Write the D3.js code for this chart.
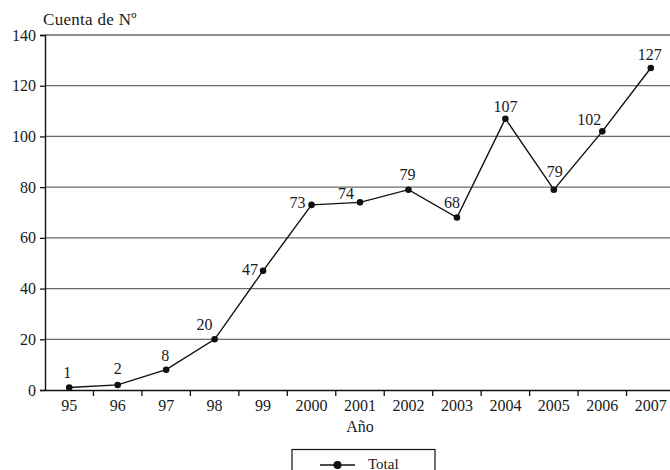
<!DOCTYPE html>
<html>
<head>
<meta charset="utf-8">
<script src="https://cdn.jsdelivr.net/npm/d3@7/dist/d3.min.js"></script>
<style>
  html, body { margin: 0; padding: 0; background: #fff; overflow: hidden; }
  svg { display: block; font-family: "Liberation Serif", "DejaVu Serif", serif; }
</style>
</head>
<body>
<svg id="chart" width="670" height="470"></svg>
<script>
// ---- data ----
const years = ["95", "96", "97", "98", "99", "2000", "2001", "2002", "2003", "2004", "2005", "2006", "2007"];
const totals = [1, 2, 8, 20, 47, 73, 74, 79, 68, 107, 79, 102, 127];
const yTicks = [0, 20, 40, 60, 80, 100, 120, 140];
const seriesName = "Total";
const yTitle = "Cuenta de Nº";
const xTitle = "Año";

// ---- label placement (layout only) ----
const labelPlace = [
  {dx: -2, dy: -9, anchor: "middle"},
  {dx: 0, dy: -11, anchor: "middle"},
  {dx: -1, dy: -9, anchor: "middle"},
  {dx: -10, dy: -9, anchor: "middle"},
  {dx: -5, dy: 4, anchor: "end"},
  {dx: -6, dy: 3, anchor: "end"},
  {dx: -14, dy: -3, anchor: "middle"},
  {dx: -1, dy: -10, anchor: "middle"},
  {dx: -5, dy: -10, anchor: "middle"},
  {dx: 0, dy: -7, anchor: "middle"},
  {dx: 1, dy: -13, anchor: "middle"},
  {dx: -13, dy: -6, anchor: "middle"},
  {dx: -1, dy: -8, anchor: "middle"}
];

const svg = d3.select("#chart");
const mLeft = 45, mRight = 675, mTop = 35, mBottom = 390;

const x = d3.scaleBand().domain(years).range([mLeft, mRight]).padding(0);
const y = d3.scaleLinear().domain([0, 140]).range([mBottom, mTop]);

// gridlines
svg.append("g").selectAll("line").data(yTicks.filter(d => d > 0)).join("line")
  .attr("x1", mLeft).attr("x2", mRight)
  .attr("y1", d => y(d)).attr("y2", d => y(d))
  .attr("stroke", "#6a6a6a").attr("stroke-width", 1.3);

// y axis
const yAxis = svg.append("g").attr("transform", `translate(${mLeft},0)`)
  .call(d3.axisLeft(y).tickValues(yTicks).tickSize(5).tickPadding(4));
yAxis.select(".domain").attr("stroke", "#111").attr("stroke-width", 1.4);
yAxis.selectAll(".tick line").attr("stroke", "#111").attr("stroke-width", 1.3);
yAxis.selectAll("text").attr("font-size", 16).attr("fill", "#1a1a1a")
  .attr("font-family", "Liberation Serif, serif");

// x axis
const xAxis = svg.append("g").attr("transform", `translate(0,${mBottom})`)
  .call(d3.axisBottom(x).tickSize(0).tickPadding(0));
xAxis.select(".domain").attr("stroke", "#111").attr("stroke-width", 1.4);
xAxis.selectAll(".tick text").attr("font-size", 16).attr("fill", "#1a1a1a")
  .attr("dy", 0).attr("y", 21).attr("font-family", "Liberation Serif, serif");
// boundary ticks
svg.append("g").selectAll("line").data(years.slice(1)).join("line")
  .attr("x1", d => x(d)).attr("x2", d => x(d))
  .attr("y1", mBottom).attr("y2", mBottom + 6)
  .attr("stroke", "#111").attr("stroke-width", 1.3);

// titles
svg.append("text").attr("x", 43).attr("y", 25).attr("font-size", 17)
  .attr("letter-spacing", 0.3).attr("fill", "#1a1a1a").text(yTitle);
svg.append("text").attr("x", 360).attr("y", 432).attr("text-anchor", "middle")
  .attr("font-size", 16).attr("fill", "#1a1a1a").text(xTitle);

// line
const cx = d => x(d) + x.bandwidth() / 2;
const pts = years.map((yr, i) => ({yr, v: totals[i], i}));
svg.append("path").datum(pts)
  .attr("d", d3.line().x(d => cx(d.yr)).y(d => y(d.v)))
  .attr("fill", "none").attr("stroke", "#111").attr("stroke-width", 1.4);
svg.append("g").selectAll("circle").data(pts).join("circle")
  .attr("cx", d => cx(d.yr)).attr("cy", d => y(d.v)).attr("r", 3.3)
  .attr("fill", "#111");

// data labels
svg.append("g").selectAll("text").data(pts).join("text")
  .attr("x", d => cx(d.yr) + labelPlace[d.i].dx)
  .attr("y", d => y(d.v) + labelPlace[d.i].dy)
  .attr("text-anchor", d => labelPlace[d.i].anchor)
  .attr("font-size", 16).attr("fill", "#1a1a1a")
  .text(d => d.v);

// legend
const lg = svg.append("g");
lg.append("rect").attr("x", 292).attr("y", 449.5).attr("width", 143).attr("height", 40)
  .attr("fill", "#fff").attr("stroke", "#111").attr("stroke-width", 1.2);
lg.append("line").attr("x1", 320).attr("x2", 355).attr("y1", 465).attr("y2", 465)
  .attr("stroke", "#111").attr("stroke-width", 1.4);
lg.append("circle").attr("cx", 337.5).attr("cy", 465).attr("r", 4).attr("fill", "#111");
lg.append("text").attr("x", 368).attr("y", 468.5).attr("font-size", 15)
  .attr("fill", "#1a1a1a").text(seriesName);
</script>
</body>
</html>
